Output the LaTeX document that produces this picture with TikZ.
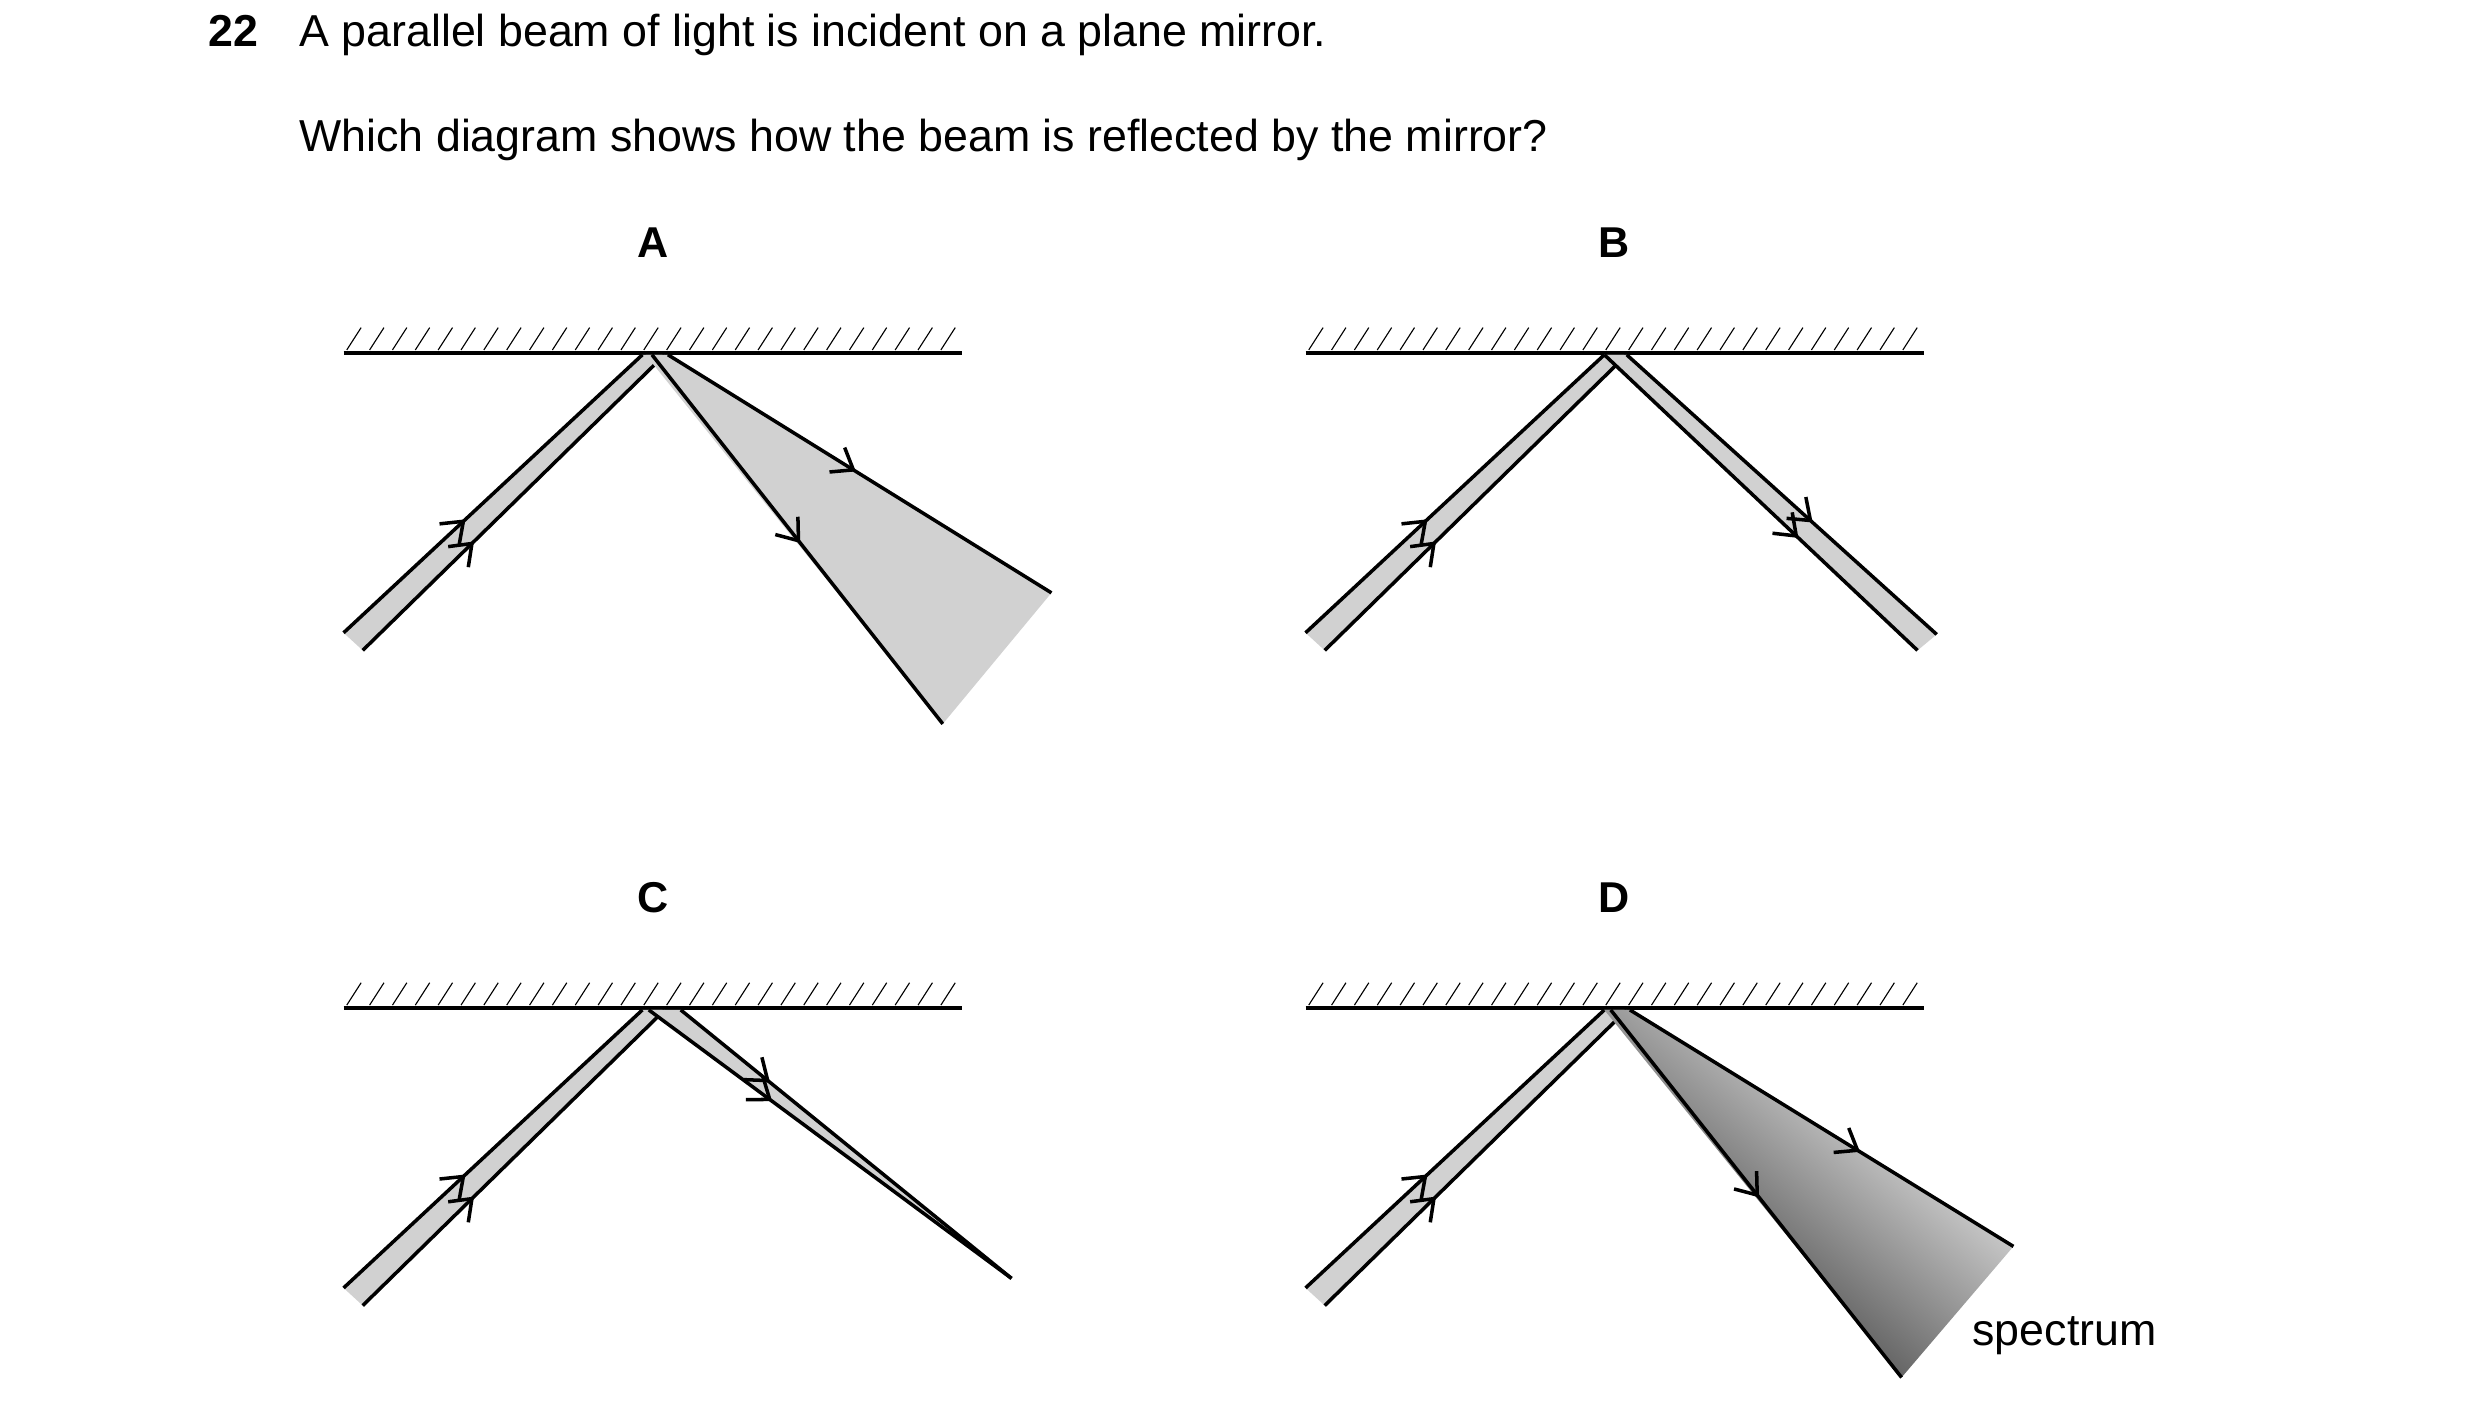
\documentclass[tikz,border=0pt]{standalone}
\usepackage{fontspec}
\setmainfont{Liberation Sans}
\usetikzlibrary{arrows.meta,decorations.markings}
\begin{document}
\begin{tikzpicture}[x=0.5pt,y=-0.5pt,
  ray/.style={line width=1.1pt,line cap=butt},
  mirror/.style={line width=1.3pt},
  hatch/.style={line width=0.35pt},
  beam/.style={fill=black!18},
  marr/.style={postaction={decorate,decoration={markings,mark=at position #1 with {\arrow{Straight Barb[length=6pt,width=9pt,line width=1.1pt]}}}}},
  txt/.style={font=\fontsize{14}{17}\selectfont,anchor=base west,inner sep=0},
  lab/.style={font=\bfseries\fontsize{13.5}{16}\selectfont,anchor=base,inner sep=0}]
\useasboundingbox (0,0) rectangle (1552,880);
\node[txt,font=\bfseries\fontsize{14}{17}\selectfont] (num) at (130,29) {22};
\node[txt] (q1) at (187,29) {A parallel beam of light is incident on a plane mirror.};
\node[txt] (q2) at (187,95) {Which diagram shows how the beam is reflected by the mirror?};
\node[lab] (lA) at (409,161) {A};
\node[lab] (lB) at (1010,161) {B};
\node[lab] (lC) at (409,571) {C};
\node[lab] (lD) at (1010,571) {D};
% mirrors
\foreach \mx/\my in {215/221,817/221,215/631,817/631}{
  \draw[mirror] (\mx,\my) -- ++(387,0);
  \foreach \i in {0,...,26} \draw[hatch] (\mx+2+\i*14.3,\my-2) -- ++(9,-14);
}
% incident beams
\foreach \ox/\oy in {0/0,602/0,0/410,602/410}{
  \begin{scope}[shift={(\ox,\oy)}]
  \coordinate (a1) at (215,396); \coordinate (a2) at (402,222);
  \coordinate (b1) at (227,407); \coordinate (b2) at (416,222);
  \fill[beam] (a1) -- (a2) -- (b2) -- (b1) -- cycle;
  \draw[ray,marr=0.41] (a1) -- (a2);
  \draw[ray,marr=0.37] (b1) -- (b2);
  \end{scope}
}
% A reflected
\coordinate (ra1) at (408,222); \coordinate (ra2) at (590,453);
\coordinate (rb1) at (418,222); \coordinate (rb2) at (658,371);
\fill[beam] (404,222) -- (ra2) -- (rb2) -- (rb1) -- cycle;
\draw[ray,marr=0.51] (ra1) -- (ra2);
\draw[ray,marr=0.49] (rb1) -- (rb2);
% B reflected
\coordinate (sa1) at (1004,222); \coordinate (sa2) at (1200,407);
\coordinate (sb1) at (1018,222); \coordinate (sb2) at (1212,397);
\fill[beam] (sa1) -- (sa2) -- (sb2) -- (sb1) -- cycle;
\draw[ray,marr=0.62] (sa1) -- (sa2);
\draw[ray,marr=0.6] (sb1) -- (sb2);
% C reflected
\coordinate (ta1) at (406,632); \coordinate (tb1) at (426,632); \coordinate (tp) at (633,800);
\fill[beam] (ta1) -- (tp) -- (tb1) -- cycle;
\draw[ray,marr=0.34] (ta1) -- (tp);
\draw[ray,marr=0.27] (tb1) -- (tp);
% D reflected
\coordinate (ua1) at (1008,632); \coordinate (ua2) at (1190,862);
\coordinate (ub1) at (1020,632); \coordinate (ub2) at (1260,780);
\shade[left color=white,right color=black!85,shading angle=-40] (1004,632) -- (ua2) -- (ub2) -- (ub1) -- cycle;
\draw[ray,marr=0.51] (ua1) -- (ua2);
\draw[ray,marr=0.6] (ub1) -- (ub2);
\node[txt] (sp) at (1234,842) {spectrum};
\end{tikzpicture}
\end{document}
